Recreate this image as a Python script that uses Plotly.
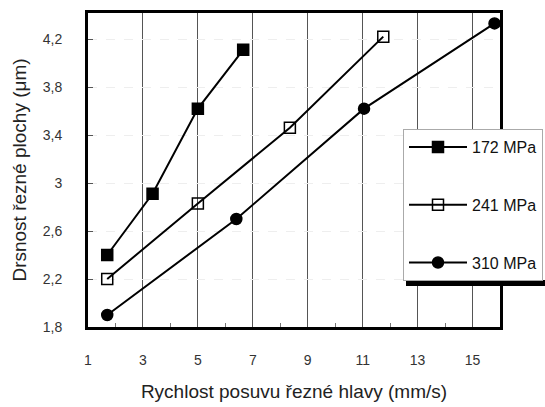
import plotly.graph_objects as go

x_172 = [1.7, 3.35, 5.0, 6.65]
y_172 = [2.40, 2.91, 3.62, 4.11]
x_241 = [1.7, 5.0, 8.35, 11.75]
y_241 = [2.20, 2.83, 3.46, 4.22]
x_310 = [1.7, 6.4, 11.05, 15.8]
y_310 = [1.90, 2.70, 3.62, 4.33]

series = [
    ("172 MPa", x_172, y_172, "square", "black"),
    ("241 MPa", x_241, y_241, "square-open", "black"),
    ("310 MPa", x_310, y_310, "circle", "black"),
]
x_ticks = [1, 3, 5, 7, 9, 11, 13, 15]
y_ticks = [1.8, 2.2, 2.6, 3.0, 3.4, 3.8, 4.2]
y_ticklabels = ["1,8", "2,2", "2,6", "3", "3,4", "3,8", "4,2"]

fig = go.Figure()
for i, (name, xs, ys, sym, col) in enumerate(series):
    fig.add_trace(go.Scatter(
        x=xs, y=ys, name=name, mode="lines+markers",
        line=dict(color="black", width=2),
        marker=dict(symbol=sym, size=11, color=col,
                    line=dict(color="black", width=1.5)),
        legendgroup=name,
    ))

W, H = 545, 407
ml, mr, mt, mb = 88, 45, 13, 80
pw, ph = W - ml - mr, H - mt - mb

def px_x(p):
    return (p - ml) / pw

def px_y(p):
    return (H - mb - p) / ph

# legend shadow (bottom strip)
fig.add_shape(type="rect", xref="paper", yref="paper",
              x0=px_x(406), x1=px_x(560), y0=px_y(286), y1=px_y(280),
              fillcolor="black", line=dict(width=0), layer="above")

fig.update_layout(
    width=W, height=H,
    margin=dict(l=ml, r=mr, t=mt, b=mb, autoexpand=False),
    paper_bgcolor="white", plot_bgcolor="white",
    font=dict(family="Liberation Sans", color="#222"),
    showlegend=True,
    legend=dict(
        x=px_x(403), y=px_y(129), xanchor="left", yanchor="top",
        bgcolor="white", bordercolor="#aaaaaa", borderwidth=1,
        font=dict(family="Liberation Sans", size=16, color="#111"),
        traceorder="grouped", tracegroupgap=34,
        itemwidth=58,
    ),
    xaxis=dict(
        range=[1, 16], tickvals=x_ticks, ticktext=[str(v) for v in x_ticks],
        showgrid=True, gridcolor="#555", gridwidth=1,
        showline=True, linecolor="black", linewidth=3, mirror=True,
        ticks="inside", ticklen=4, tickcolor="#555",
        minor=dict(dtick=1, ticks="inside", ticklen=4, tickcolor="#777"),
        ticklabelstandoff=18,
        tickfont=dict(family="Liberation Sans", size=14, color="#333"),
        title=dict(text="Rychlost posuvu řezné hlavy (mm/s)", standoff=18,
                   font=dict(family="Liberation Sans", size=19, color="#222")),
        zeroline=False,
    ),
    yaxis=dict(
        range=[1.8, 4.417], tickvals=y_ticks, ticktext=y_ticklabels,
        showgrid=True, gridcolor="#eeeeee", gridwidth=1, griddash="dash",
        showline=True, linecolor="black", linewidth=3, mirror=True,
        ticks="inside", ticklen=5, tickcolor="#555",
        ticklabelstandoff=20,
        tickfont=dict(family="Liberation Sans", size=14, color="#333"),
        title=dict(text="Drsnost řezné plochy (μm)", standoff=12,
                   font=dict(family="Liberation Sans", size=19, color="#222")),
        zeroline=False,
    ),
)

fig.write_html("out.html")
